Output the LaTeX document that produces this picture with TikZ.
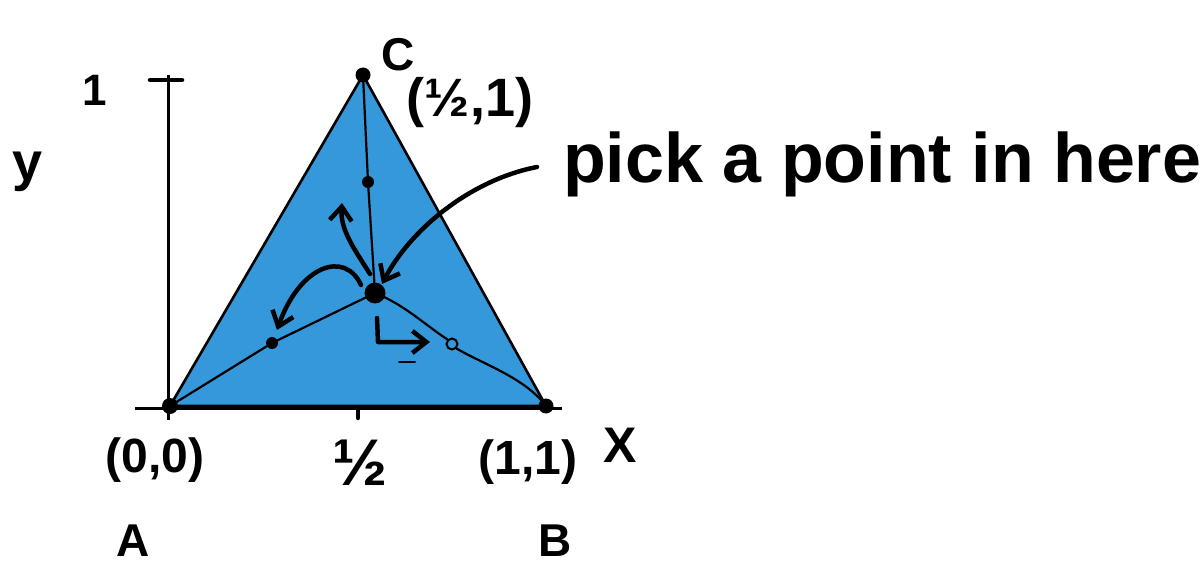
\documentclass[tikz,border=0pt]{standalone}
\usepackage{fontspec}
\setmainfont{Liberation Sans}
\usetikzlibrary{arrows.meta}
\definecolor{triblue}{HTML}{3598DB}
\tikzset{
  axisline/.style={line width=3pt, black},
  edge/.style={line width=2.6pt, black, line join=round},
  inner/.style={line width=2.2pt, black, line cap=round},
  marker/.style={line width=4.5pt, black, line cap=round, line join=round},
  penarrow/.style={marker, -{Straight Barb[length=14pt, width=22pt, line width=4.5pt]}},
  dot/.style={circle, fill=black, inner sep=0pt, minimum size=#1},
  lbl/.style={font=\bfseries\fontsize{#1}{#1}\selectfont, inner sep=0pt}
}
\begin{document}
\begin{tikzpicture}[x=1pt, y=-1pt]
\useasboundingbox (0,0) rectangle (1204,569);
% points
\coordinate (A) at (170,406);
\coordinate (B) at (546,406);
\coordinate (C) at (363,75);
\coordinate (P) at (375,293);
% triangle
\fill[triblue] (A) -- (B) -- (C) -- cycle;
\draw[edge] (A) -- (B) -- (C) -- cycle;
% axes
\coordinate (xl) at (135,408);
\coordinate (xr) at (562,408);
\coordinate (yt) at (168,75);
\coordinate (yb) at (168,420);
\draw[axisline] (xl) -- (xr);
\draw[axisline] (yt) -- (yb);
\coordinate (t1a) at (150,80);
\coordinate (t1b) at (182,80);
\draw[marker] (t1a) -- (t1b);
\coordinate (th1) at (358,408);
\coordinate (th2) at (358,418);
\draw[marker] (th1) -- (th2);
% inner paths
\node[dot=12pt] (dC) at (368,182) {};
\node[dot=12pt] (dA) at (272,343) {};
\node[circle, draw=black, line width=2pt, inner sep=0pt, minimum size=11pt] (cB) at (452,344) {};
\draw[inner] (C) -- (dC) -- (P);
\draw[inner] (P) -- (dA) -- (A);
\draw[inner] (P) .. controls (405,305) and (425,325) .. (cB.north west);
\draw[inner] (cB.south east) .. controls (485,365) and (525,378) .. (B);
% dots at vertices
\node[dot=16pt] (dotA) at (A) {};
\node[dot=15pt] (dotB) at (B) {};
\node[dot=15pt] (dotC) at (C) {};
\node[dot=21pt] (dotP) at (P) {};
% arrows
\coordinate (s1) at (537,167);
\coordinate (e1) at (382,284);
\draw[penarrow] (s1) .. controls (470,180) and (410,230) .. (e1);
\coordinate (s2) at (370,274);
\coordinate (e2) at (342,203);
\draw[penarrow] (s2) .. controls (355,250) and (340,230) .. (e2);
\coordinate (s3) at (361,285);
\coordinate (e3) at (277,330);
\draw[penarrow] (s3) .. controls (345,250) and (300,265) .. (e3);
\coordinate (s4) at (377,318);
\coordinate (m4) at (378,342);
\coordinate (e4) at (430,342);
\draw[penarrow] (s4) -- (m4) -- (e4);
\coordinate (d1) at (399,362);
\coordinate (d2) at (415,362);
\draw[line width=2pt, line cap=round] (d1) -- (d2);
% labels
\node[lbl=46pt] (lC) at (398,55) {C};
\node[lbl=54pt] (lCc) at (470,103) {(½,1)};
\node[lbl=44pt] (l1) at (95,90) {1};
\node[lbl=54pt] (ly) at (28,172) {y};
\node[lbl=70pt, anchor=base west] (pick) at (563,183) {pick a point in here};
\node[lbl=48pt] (lA0) at (155,460) {(0,0)};
\node[lbl=66pt] (lhalf) at (360,463) {½};
\node[lbl=48pt] (lB0) at (528,462) {(1,1)};
\node[lbl=50pt] (lX) at (620,445) {X};
\node[lbl=46pt] (lA) at (133,541) {A};
\node[lbl=46pt] (lB) at (555,541) {B};
\end{tikzpicture}
\end{document}
